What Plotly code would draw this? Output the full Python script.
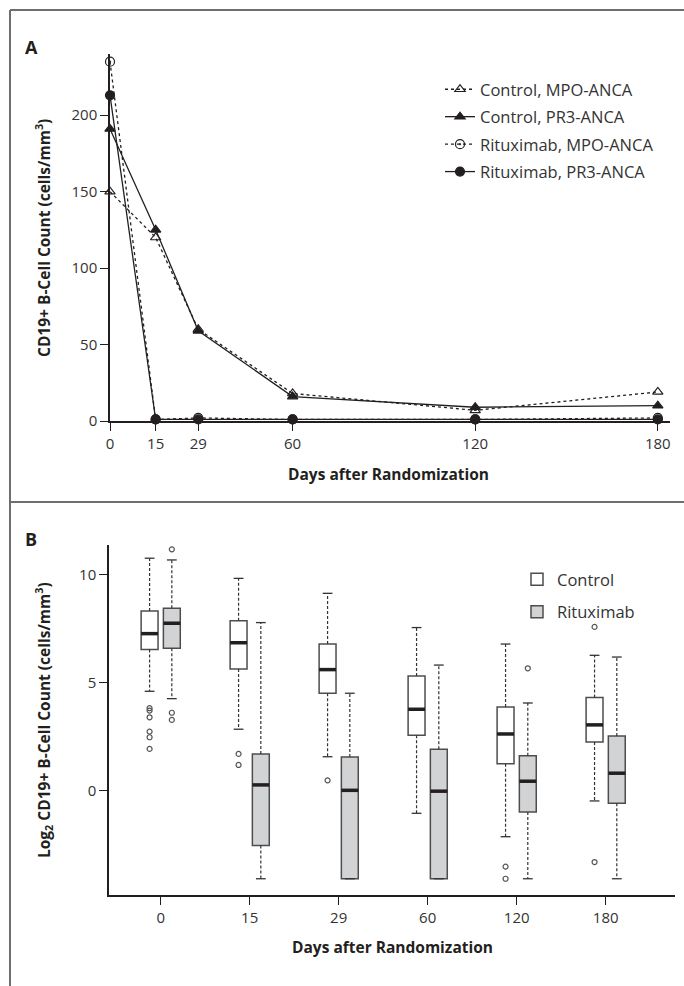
import plotly.graph_objects as go

# ---------------- Panel A data ----------------
days_a = [0, 15, 29, 60, 120, 180]
ctrl_mpo = [150, 120, 60, 18, 7, 19]
ctrl_pr3 = [191, 125, 59, 16, 9, 10]
rit_mpo = [235, 1, 2, 1, 1, 2]
rit_pr3 = [213, 1, 1, 1, 1, 1]
a_ticks = [0, 50, 100, 150, 200]

# ---------------- Panel B data ----------------
days_b = ["0", "15", "29", "60", "120", "180"]
ctrl_q1 = [6.53, 5.63, 4.51, 2.57, 1.26, 2.26]
ctrl_med = [7.26, 6.84, 5.60, 3.77, 2.63, 3.05]
ctrl_q3 = [8.31, 7.86, 6.78, 5.31, 3.88, 4.31]
ctrl_lo = [4.60, 2.85, 1.58, -1.03, -2.11, -0.46]
ctrl_hi = [10.74, 9.81, 9.12, 7.54, 6.78, 6.26]
ctrl_out = [[3.82, 3.71, 3.40, 2.74, 2.48, 1.94], [1.71, 1.20], [0.49], [], [-3.49, -4.05], [7.57, -3.28]]

rit_q1 = [6.58, -2.52, -4.05, -4.05, -0.97, -0.57]
rit_med = [7.74, 0.28, 0.03, -0.01, 0.45, 0.82]
rit_q3 = [8.43, 1.71, 1.57, 1.92, 1.63, 2.54]
rit_lo = [4.26, -4.05, -4.05, -4.05, -4.05, -4.05]
rit_hi = [10.66, 7.77, 4.51, 5.81, 4.06, 6.18]
rit_out = [[11.15, 3.61, 3.28], [], [], [], [5.66], []]
b_ticks = [0, 5, 10]

# ---------------- styling ----------------
W, H = 684, 986
def px(x):
    return x / W
def py(y):
    return 1 - y / H

INK = "#231f20"
GRID = "#4d4d4d"
FONT = "Open Sans"
TICKFONT = dict(family=FONT, size=15, color="#333333")
LEGFONT = dict(family=FONT, size=16.5, color="#333333")

fig = go.Figure()

series = [
    ("Control, MPO-ANCA", ctrl_mpo, "3px,3px", "triangle-up-open"),
    ("Control, PR3-ANCA", ctrl_pr3, "solid", "triangle-up"),
    ("Rituximab, MPO-ANCA", rit_mpo, "3px,3px", "circle-open-dot"),
    ("Rituximab, PR3-ANCA", rit_pr3, "solid", "circle"),
]
for name, vals, dash, sym in series:
    fig.add_trace(go.Scatter(
        x=days_a, y=vals, name=name, mode="lines+markers",
        line=dict(color=INK, width=1.3, dash=dash),
        marker=dict(symbol=sym, size=9, color=INK, line=dict(color=INK, width=1.2)),
        cliponaxis=False, xaxis="x", yaxis="y", legend="legend", legendgroup=name,
    ))

# Panel B boxes
OFF = 0.125
BW = 0.19
CAP = 0.055
MW = 0.095
idx = list(range(len(days_b)))
groups = [
    ("Control", -OFF, "#ffffff", ctrl_q1, ctrl_med, ctrl_q3, ctrl_lo, ctrl_hi, ctrl_out),
    ("Rituximab", OFF, "#d1d3d4", rit_q1, rit_med, rit_q3, rit_lo, rit_hi, rit_out),
]
for name, off, fill, q1, med, q3, lo, hi, outs in groups:
    xs = [i + off for i in idx]
    wx, wy, cx, cy, mx, my, ox, oy = [], [], [], [], [], [], [], []
    for x, a, m, b, l, h, o in zip(xs, q1, med, q3, lo, hi, outs):
        wx += [x, x, None, x, x, None]
        wy += [b, h, None, a, l, None]
        cx += [x - CAP, x + CAP, None, x - CAP, x + CAP, None]
        cy += [h, h, None, l, l, None]
        mx += [x - MW, x + MW, None]
        my += [m, m, None]
        ox += [x] * len(o)
        oy += o
    fig.add_trace(go.Scatter(x=wx, y=wy, mode="lines", showlegend=False, hoverinfo="skip",
                             line=dict(color="#333333", width=1.2, dash="3px,2px"),
                             xaxis="x2", yaxis="y2"))
    fig.add_trace(go.Scatter(x=cx, y=cy, mode="lines", showlegend=False, hoverinfo="skip",
                             line=dict(color="#333333", width=1.3),
                             xaxis="x2", yaxis="y2"))
    fig.add_trace(go.Box(
        x=xs, q1=q1, median=med, q3=q3, lowerfence=q1, upperfence=q3,
        width=BW, fillcolor=fill, line=dict(color=GRID, width=1.5), whiskerwidth=0,
        boxpoints=False, name=name, legend="legend2", legendgroup=name,
        xaxis="x2", yaxis="y2",
    ))
    fig.add_trace(go.Scatter(x=mx, y=my, mode="lines", showlegend=False, hoverinfo="skip",
                             line=dict(color=INK, width=3.5),
                             xaxis="x2", yaxis="y2"))
    fig.add_trace(go.Scatter(x=ox, y=oy, mode="markers", showlegend=False, hoverinfo="skip",
                             marker=dict(symbol="circle-open", size=5, color="#555555",
                                         line=dict(width=1.2)),
                             cliponaxis=False, xaxis="x2", yaxis="y2"))

axis_common = dict(showline=True, linecolor=INK, linewidth=1.5, ticks="outside",
                   ticklen=8, tickwidth=1.3, tickcolor=INK, showgrid=False,
                   zeroline=False, tickfont=TICKFONT, automargin=False)

fig.update_layout(
    width=W, height=H, margin=dict(l=0, r=0, t=0, b=0, autoexpand=False),
    paper_bgcolor="white", plot_bgcolor="white", boxmode="overlay",
    font=dict(family=FONT, color=INK),
    xaxis=dict(domain=[px(110), px(670)], range=[0, 184], tickvals=days_a,
               anchor="y", **axis_common),
    yaxis=dict(domain=[py(421), py(54)], range=[0, 240], tickvals=a_ticks,
               anchor="x", **axis_common),
    xaxis2=dict(domain=[px(109), px(675)], range=[-0.581, 5.779], tickvals=idx,
                ticktext=days_b, anchor="y2", **axis_common),
    yaxis2=dict(domain=[py(895), py(545)], range=[-4.8, 11.35], tickvals=b_ticks,
                anchor="x2", **axis_common),
    legend=dict(x=px(440), y=py(72), xanchor="left", yanchor="top",
                bgcolor="rgba(0,0,0,0)", font=LEGFONT, tracegroupgap=3),
    legend2=dict(x=px(517), y=py(562), xanchor="left", yanchor="top",
                 bgcolor="rgba(0,0,0,0)", font=LEGFONT, tracegroupgap=8),
    showlegend=True,
)

frame = dict(color="#6d6e71", width=2)
fig.add_shape(type="line", xref="paper", yref="paper", x0=px(10), x1=1, y0=py(10), y1=py(10), line=frame)
fig.add_shape(type="line", xref="paper", yref="paper", x0=px(10), x1=px(10), y0=py(10), y1=0, line=frame)
fig.add_shape(type="line", xref="paper", yref="paper", x0=px(10), x1=1, y0=py(502), y1=py(502), line=frame)

def note(text, x, y, size=15.5, angle=0):
    fig.add_annotation(text=text, x=px(x), y=py(y), xref="paper", yref="paper",
                       showarrow=False, textangle=angle, xanchor="center", yanchor="middle",
                       font=dict(family=FONT, size=size, color=INK, weight="bold"))

note("A", 31, 47, size=18)
note("B", 31, 539, size=18)
note("Days after Randomization", 388, 474)
note("Days after Randomization", 392, 947)
note("CD19+ B-Cell Count (cells/mm<sup>3</sup>)", 43, 238, angle=-90)
note("Log<sub>2</sub> CD19+ B-Cell Count (cells/mm<sup>3</sup>)", 43, 720, angle=-90)

fix_page = (
    "document.documentElement.style.margin='0px';"
    "document.documentElement.style.overflow='hidden';"
    "document.body.style.margin='0px';"
    "document.body.style.padding='0px';"
    "document.body.style.overflow='hidden';"
    "document.body.style.fontSize='0px';"
    "document.body.style.lineHeight='0';"
)
fig.write_html("out.html", config={"displayModeBar": False}, post_script=fix_page)
